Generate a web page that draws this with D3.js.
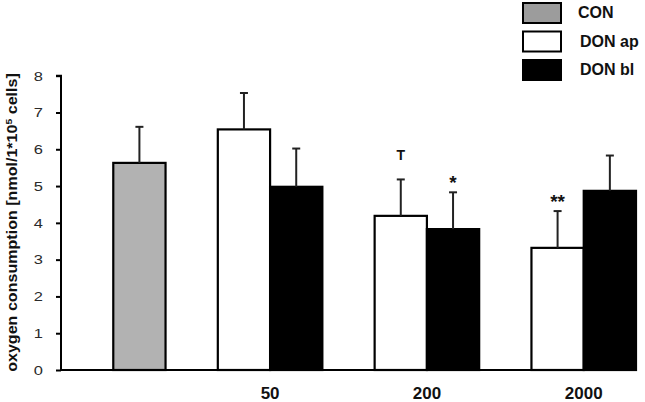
<!DOCTYPE html>
<html><head><meta charset="utf-8">
<script src="https://cdn.jsdelivr.net/npm/d3@7"></script>
<style>body{margin:0;background:#fff}svg{display:block}text{font-family:"Liberation Sans",Arial,sans-serif}</style>
</head><body>
<svg id="c" width="645" height="402"></svg>
<script>
// ---- data ----
const categories = ["", "50", "200", "2000"];
const seriesNames = ["CON", "DON ap", "DON bl"];
const conMean = [5.63, null, null, null];
const conSD   = [0.98, null, null, null];
const apMean  = [null, 6.54, 4.19, 3.32];
const apSD    = [null, 0.99, 0.99, 1.00];
const blMean  = [null, 4.98, 3.83, 4.87];
const blSD    = [null, 1.04, 1.00, 0.96];
const apSig   = [null, "", "T", "**"];
const blSig   = [null, "", "*", ""];
const yTicks  = [0, 1, 2, 3, 4, 5, 6, 7, 8];
const yTitle  = "oxygen consumption [nmol/1*10";

const colors = {"CON": "#b2b2b2", "DON ap": "#ffffff", "DON bl": "#000000"};
const legendColors = {"CON": "#9c9c9c", "DON ap": "#ffffff", "DON bl": "#000000"};

const svg = d3.select("#c");
const mLeft = 61, mRight = 636, mTop = 75.7, mBottom = 370;

// build bars + slots
const means = [conMean, apMean, blMean];
const sds = [conSD, apSD, blSD];
const sigs = [categories.map(() => ""), apSig, blSig];
const bars = [], slots = [];
categories.forEach((c, i) => {
  slots.push("gap-" + i);
  seriesNames.forEach((s, k) => {
    if (means[k][i] != null) {
      const key = s + "-" + i;
      slots.push(key);
      bars.push({key, cat: c, ci: i, series: s, mean: means[k][i], sd: sds[k][i], sig: sigs[k][i] || ""});
    }
  });
});

const x = d3.scaleBand().domain(slots).range([mLeft, mRight]).padding(0);
const y = d3.scaleLinear().domain([0, 8]).range([mBottom, mTop]);

// bars
svg.append("g").selectAll("rect").data(bars).join("rect")
  .attr("x", d => x(d.key)).attr("y", d => y(d.mean))
  .attr("width", x.bandwidth()).attr("height", d => y(0) - y(d.mean))
  .attr("fill", d => colors[d.series]).attr("stroke", "#000").attr("stroke-width", 2.2);

// error bars
const eb = svg.append("g").attr("stroke", "#222").attr("stroke-width", 2);
bars.forEach(d => {
  const cx = x(d.key) + x.bandwidth() / 2;
  eb.append("line").attr("x1", cx).attr("x2", cx).attr("y1", y(d.mean)).attr("y2", y(d.mean + d.sd));
  eb.append("line").attr("x1", cx - 4).attr("x2", cx + 4).attr("y1", y(d.mean + d.sd)).attr("y2", y(d.mean + d.sd));
});

// significance marks
svg.append("g").selectAll("text").data(bars.filter(d => d.sig)).join("text")
  .attr("x", d => x(d.key) + x.bandwidth() / 2)
  .attr("y", d => y(d.mean + d.sd) - (d.sig === "T" ? 19 : 3))
  .attr("text-anchor", "middle").attr("font-weight", "bold")
  .attr("font-size", d => d.sig === "T" ? 14 : 19)
  .attr("fill", "#111").text(d => d.sig);

// y axis
const yAxis = d3.axisLeft(y).tickValues(yTicks).tickSize(5).tickFormat(d3.format("d"));
const ga = svg.append("g").attr("transform", `translate(${mLeft},0)`).call(yAxis);
ga.select(".domain").attr("stroke", "#000").attr("stroke-width", 2).attr("d", `M-5,${mTop}H0V${mBottom}`);
ga.selectAll(".tick line").attr("stroke", "#000").attr("stroke-width", 2);
ga.selectAll(".tick text").attr("x", 0).attr("font-size", 13.5).attr("fill", "#2a2a2a")
  .attr("transform", "translate(-18,0) scale(1.22,1)")
  .attr("font-family", '"Liberation Sans",Arial,sans-serif');

// x axis line
svg.append("line").attr("x1", mLeft - 1).attr("x2", mRight).attr("y1", mBottom).attr("y2", mBottom)
  .attr("stroke", "#000").attr("stroke-width", 2);

// category labels centred on their bars
categories.forEach((c, i) => {
  if (!c) return;
  const cb = bars.filter(b => b.ci === i);
  const x0 = x(cb[0].key), x1 = x(cb[cb.length - 1].key) + x.bandwidth();
  svg.append("text").attr("x", (x0 + x1) / 2).attr("y", 399)
    .attr("text-anchor", "middle").attr("font-weight", "bold").attr("font-size", 17)
    .attr("fill", "#111").text(c);
});

// y title, stretched along its length to the reference span
const tg = svg.append("g").attr("transform", `translate(17,222.5) rotate(-90)`);
const t = tg.append("text").attr("text-anchor", "middle").attr("font-weight", "bold")
  .attr("font-size", 14).attr("fill", "#111");
t.append("tspan").text(yTitle);
t.append("tspan").attr("font-size", 9).attr("dy", -5).text("5");
t.append("tspan").attr("dy", 5).text(" cells]");
const tw = t.node().getBBox().width;
t.attr("transform", `scale(${299 / tw},1)`);

// legend
const lg = svg.append("g").selectAll("g").data(seriesNames).join("g")
  .attr("transform", (d, i) => `translate(523,${3 + i * 28.5})`);
lg.append("rect").attr("width", 38).attr("height", 20)
  .attr("fill", d => legendColors[d]).attr("stroke", "#000").attr("stroke-width", 2);
lg.append("text").attr("x", (d, i) => i === 0 ? 55 : 57).attr("y", 15)
  .attr("font-weight", "bold").attr("font-size", 16).attr("fill", "#111").text(d => d);
</script>
</body></html>
